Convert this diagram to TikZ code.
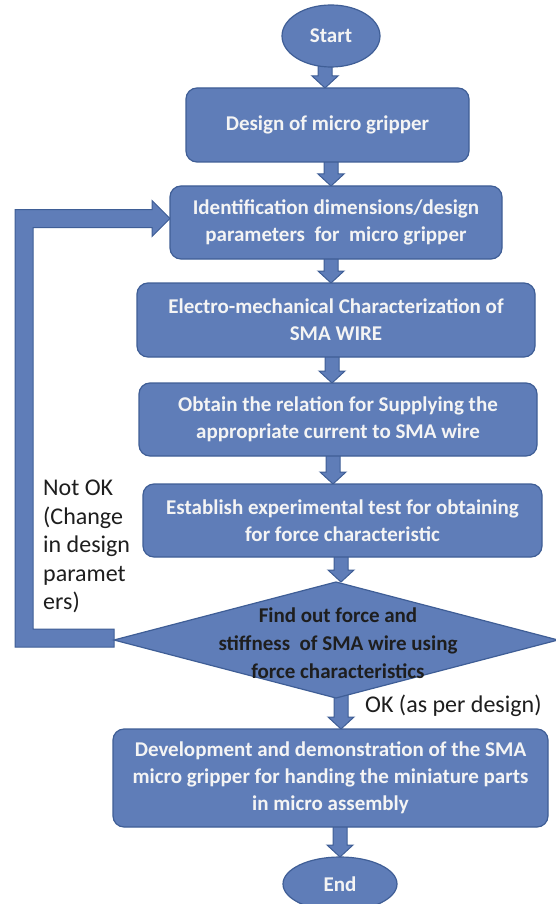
\documentclass[tikz,border=0pt]{standalone}
\usepackage{fontspec}
\setmainfont{Carlito}
\usetikzlibrary{shapes.geometric,calc}
\definecolor{boxfill}{HTML}{5F7DB8}
\definecolor{boxborder}{HTML}{3F5E96}
\definecolor{boxtext}{HTML}{F4F4F4}
\definecolor{labeltext}{HTML}{1E1E1E}
\pgfdeclarelayer{bg}
\pgfdeclarelayer{paper}
\pgfsetlayers{paper,bg,main}
\newcommand{\flowarrow}[3]{%
  \coordinate (va) at (#3,0);
  \filldraw[blockarrow] ($(va |- #1.south)+(-7,-8)$) -- ($(va |- #2.north)+(-7,-12)$)
    -- ($(va |- #2.north)+(-13,-12)$) -- (va |- #2.north) -- ($(va |- #2.north)+(13,-12)$)
    -- ($(va |- #2.north)+(7,-12)$) -- ($(va |- #1.south)+(7,-8)$) -- cycle;}
\begin{document}
\begin{tikzpicture}[x=1pt,y=-1pt,
  flowbox/.style={rectangle, rounded corners=11pt, fill=boxfill, draw=boxborder, line width=1.2pt,
    text=boxtext, font=\bfseries\fontsize{21}{27}\selectfont, align=center, inner sep=0pt, outer sep=0pt},
  terminal/.style={ellipse, fill=boxfill, draw=boxborder, line width=1.2pt,
    text=boxtext, font=\bfseries\fontsize{21}{27}\selectfont, inner sep=0pt, outer sep=0pt},
  decision/.style={diamond, fill=boxfill, draw=boxborder, line width=1.2pt, inner sep=0pt, outer sep=0pt},
  dectext/.style={text=labeltext, font=\bfseries\fontsize{21}{28}\selectfont, align=center, inner sep=0pt},
  note/.style={text=labeltext, font=\fontsize{24}{28.5}\selectfont, inner sep=0pt},
  blockarrow/.style={fill=boxfill, draw=boxborder, line width=1pt, line join=miter}]
\useasboundingbox (0,0) rectangle (556,904);
\begin{pgfonlayer}{paper}
\fill[white] (0,0) rectangle (556,904);
\end{pgfonlayer}

\node[terminal, minimum width=98pt, minimum height=62pt] (start) at (331,36) {Start};
\node[flowbox, minimum width=283pt, minimum height=74pt] (design) at (327.5,125) {Design of micro gripper};
\node[flowbox, minimum width=332pt, minimum height=73pt] (ident) at (336,222.5) {Identification dimensions/design\\parameters\ \ for\ \ micro gripper};
\node[flowbox, minimum width=398pt, minimum height=74pt] (electro) at (336,320) {Electro-mechanical Characterization\ of\\SMA WIRE};
\node[flowbox, minimum width=398pt, minimum height=73pt] (obtain) at (338,419.5) {Obtain the relation for Supplying the\\appropriate current to SMA wire};
\node[flowbox, minimum width=399pt, minimum height=73pt] (establish) at (342.5,520.5) {Establish experimental test for obtaining\\for force characteristic};
\node[decision, minimum width=444pt, minimum height=116pt] (dec) at (336,640) {};
\node[dectext] (dectxt) at (338,643) {Find out force and\\stiffness\ \ of SMA wire using\\force characteristics};
\node[flowbox, minimum width=435pt, minimum height=98pt] (dev) at (330.5,778) {Development and demonstration of the SMA\\micro gripper for handing the miniature parts\\in micro assembly};
\node[terminal, minimum width=114pt, minimum height=54pt] (end) at (340,884) {End};

\node[note, anchor=north west, align=left] (notok) at (43,480) {Not OK\\(Change\\in design\\paramet\\ers)};
\node[note, anchor=base west] (ok) at (365,712) {OK (as per design)};

\begin{pgfonlayer}{bg}
\flowarrow{start}{design}{325}
\flowarrow{design}{ident}{331}
\flowarrow{ident}{electro}{331}
\flowarrow{electro}{obtain}{332}
\flowarrow{obtain}{establish}{333}
\flowarrow{establish}{dec}{341}
\flowarrow{dec}{dev}{341}
\flowarrow{dev}{end}{340}
\coordinate (lo) at (15,0);
\coordinate (li) at (33,0);
\coordinate (B1) at ($(dec.west)+(0,-11)$);
\coordinate (B2) at ($(dec.west)+(0,7)$);
\coordinate (T) at ($(ident.west)+(0,-4)$);
\coordinate (Ta) at ($(T)+(-18,-9)$);
\coordinate (Tb) at ($(T)+(-18,9)$);
\coordinate (Tc) at ($(T)+(-18,-18)$);
\coordinate (Td) at ($(T)+(-18,18)$);
\filldraw[blockarrow] (B1) -- (li |- B1) -- (li |- Tb) -- (Tb) -- (Td) -- (T) -- (Tc) -- (Ta)
  -- (lo |- Ta) -- (lo |- B2) -- (B2) -- cycle;
\end{pgfonlayer}
\end{tikzpicture}
\end{document}
